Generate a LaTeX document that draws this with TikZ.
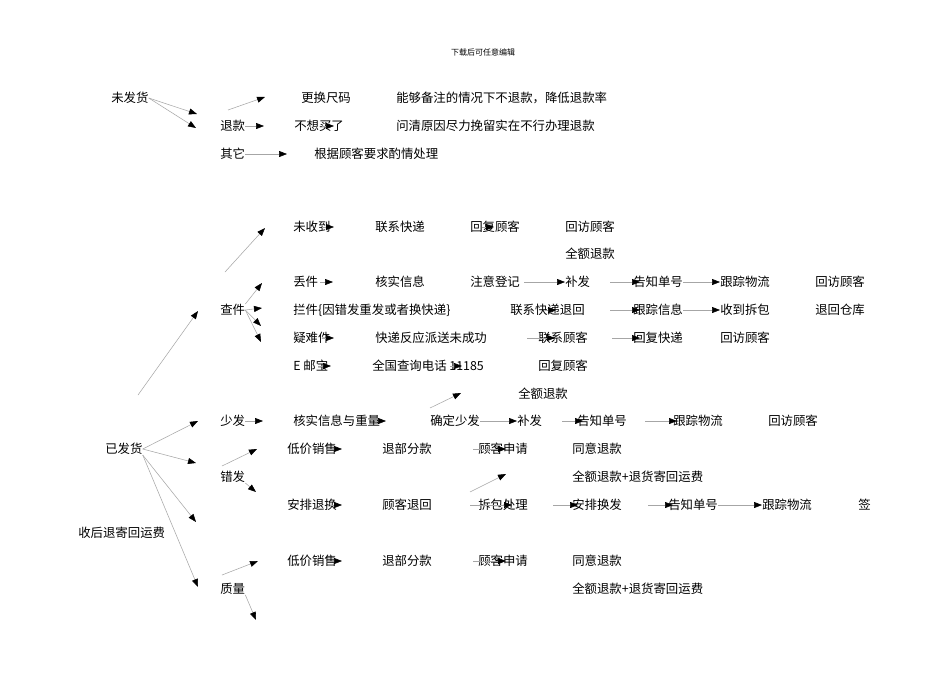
\documentclass[tikz,border=0pt]{standalone}
\usepackage{fontspec}
\setmainfont{Noto Sans CJK SC}
\usetikzlibrary{arrows.meta}
\begin{document}
\begin{tikzpicture}[x=0.75pt,y=-0.75pt,
  t/.style={anchor=west,inner sep=0pt,font=\fontsize{9.3pt}{11pt}\selectfont},
  arr/.style={draw=gray!70,line width=0.4pt,-{Triangle[black,length=6pt,width=4.5pt]}}]
\useasboundingbox[fill=white] (0,0) rectangle (950,672);
\node[inner sep=0pt,font=\fontsize{6pt}{7pt}\selectfont] (hdr) at (483,52) {下载后可任意编辑};
% section 1
\node[t] (wfh) at (111,98) {未发货};
\node[t] (tk) at (220,126) {退款};
\node[t] (qt) at (220,154) {其它};
\node[t] (ghcm) at (301,98) {更换尺码};
\node[t] (ngbz) at (396,98) {能够备注的情况下不退款，降低退款率};
\node[t] (bxml) at (294,126) {不想买了};
\node[t] (wqyy) at (396,126) {问清原因尽力挽留实在不行办理退款};
\node[t] (gjgk) at (314,154) {根据顾客要求酌情处理};
\coordinate (a1) at (197,114); \coordinate (a2) at (196,128);
\draw[arr] (wfh.east) -- (a1);
\draw[arr] (wfh.east) -- (a2);
\coordinate (a3s) at (228,110); \coordinate (a3) at (265,97);
\draw[arr] (a3s) -- (a3);
\coordinate (a4) at (264,126); \draw[arr] (tk.east) -- (a4);
\coordinate (a5) at (287,154); \draw[arr] (qt.east) -- (a5);
\coordinate (a6s) at (322,126); \coordinate (a6) at (334,126); \draw[arr] (a6s) -- (a6);
% section 2
\node[t] (wsd) at (293,227) {未收到};
\node[t] (lxkd) at (375,227) {联系快递};
\node[t] (hfgk) at (470,227) {回复顾客};
\node[t] (hfgk2) at (565,227) {回访顾客};
\node[t] (qetk) at (565,254) {全额退款};
\node[t] (dj) at (293,282) {丢件};
\node[t] (hsxx) at (375,282) {核实信息};
\node[t] (zydj) at (470,282) {注意登记};
\node[t] (bf) at (565,282) {补发};
\node[t] (gzdh) at (633,282) {告知单号};
\node[t] (gzwl) at (720,282) {跟踪物流};
\node[t] (hfgk3) at (815,282) {回访顾客};
\node[t] (cj) at (220,310) {查件};
\node[t] (lj) at (293,310) {拦件\{因错发重发或者换快递\}};
\node[t] (lxth) at (510,310) {联系快递退回};
\node[t] (gzxx) at (633,310) {跟踪信息};
\node[t] (sdcb) at (720,310) {收到拆包};
\node[t] (thck) at (815,310) {退回仓库};
\node[t] (nnj) at (293,338) {疑难件};
\node[t] (kdfy) at (375,338) {快递反应派送未成功};
\node[t] (lxgk) at (538,338) {联系顾客};
\node[t] (hfkd) at (633,338) {回复快递};
\node[t] (hfgk4) at (720,338) {回访顾客};
\node[t] (eyb) at (293,366) {E 邮宝};
\node[t] (qgcx) at (372,366) {全国查询电话 11185};
\node[t] (hfgk5) at (538,366) {回复顾客};
\coordinate (b1s) at (225,272); \coordinate (b1) at (265,228); \draw[arr] (b1s) -- (b1);
\coordinate (b2) at (262,283); \draw[arr] (cj.north east) -- (b2);
\coordinate (b3) at (262,308); \draw[arr] (cj.east) -- (b3);
\coordinate (b4) at (261,326); \draw[arr] (cj.east) -- (b4);
\coordinate (b5) at (261,342); \draw[arr] (cj.east) -- (b5);
\foreach \y/\xa/\xb in {227/322/334, 227/482/494, 282/320/333, 338/322/334, 366/318/331, 366/450/462, 310/545/556}
  {\coordinate (s) at (\xa,\y); \coordinate (e) at (\xb,\y); \draw[arr] (s) -- (e);}
\draw[arr] (zydj.east) ++(4,0) coordinate (c1) -- (bf.west) coordinate (c1e);
\coordinate (c2s) at (610,282); \coordinate (c2e) at (640,282); \draw[arr] (c2s) -- (c2e);
\draw[arr] (gzdh.east) -- (gzwl.west);
\coordinate (c3s) at (610,310); \coordinate (c3e) at (640,310); \draw[arr] (c3s) -- (c3e);
\draw[arr] (gzxx.east) -- (sdcb.west);
\coordinate (c4s) at (527,338); \coordinate (c4e) at (555,338); \draw[arr] (c4s) -- (c4e);
\coordinate (c5s) at (612,338); \coordinate (c5e) at (640,338); \draw[arr] (c5s) -- (c5e);
% section 3
\node[t] (qetk2) at (518,394) {全额退款};
\node[t] (yfh) at (105,449) {已发货};
\node[t] (sf) at (220,421) {少发};
\node[t] (hsxz) at (293,421) {核实信息与重量};
\node[t] (qdsf) at (430,421) {确定少发};
\node[t] (bf2) at (517,421) {补发};
\node[t] (gzdh2) at (577,421) {告知单号};
\node[t] (gzwl2) at (673,421) {跟踪物流};
\node[t] (hfgk6) at (768,421) {回访顾客};
\node[t] (djxs) at (287,449) {低价销售};
\node[t] (tbfk) at (382,449) {退部分款};
\node[t] (gksq) at (478,449) {顾客申请};
\node[t] (tytk) at (572,449) {同意退款};
\node[t] (cf) at (220,477) {错发};
\node[t] (qeyf) at (572,477) {全额退款+退货寄回运费};
\node[t] (shty) at (78,533) {收后退寄回运费};
\node[t] (apth) at (287,505) {安排退换};
\node[t] (gkth) at (382,505) {顾客退回};
\node[t] (cbcl) at (478,505) {拆包处理};
\node[t] (aphf) at (572,505) {安排换发};
\node[t] (gzdh3) at (668,505) {告知单号};
\node[t] (gzwl3) at (762,505) {跟踪物流};
\node[t] (qian) at (858,505) {签};
\node[t] (djxs2) at (287,561) {低价销售};
\node[t] (tbfk2) at (382,561) {退部分款};
\node[t] (gksq2) at (478,561) {顾客申请};
\node[t] (tytk2) at (572,561) {同意退款};
\node[t] (zl) at (220,589) {质量};
\node[t] (qeyf2) at (572,589) {全额退款+退货寄回运费};
\coordinate (d0s) at (138,395); \coordinate (d0) at (198,311); \draw[arr] (d0s) -- (d0);
\coordinate (d1) at (198,421); \draw[arr] (yfh.east) -- (d1);
\coordinate (d2) at (196,463); \draw[arr] (yfh.east) -- (d2);
\coordinate (d3) at (196,522); \draw[arr] (yfh.south east) -- (d3);
\coordinate (d4) at (198,587); \draw[arr] (yfh.south east) -- (d4);
\coordinate (d5) at (263,421); \draw[arr] (sf.east) -- (d5);
\coordinate (d6s) at (430,408); \coordinate (d6) at (461,393); \draw[arr] (d6s) -- (d6);
\draw[arr] (qdsf.east) -- (bf2.west);
\coordinate (d7s) at (562,421); \coordinate (d7e) at (583,421); \draw[arr] (d7s) -- (d7e);
\coordinate (d8s) at (645,421); \coordinate (d8e) at (677,421); \draw[arr] (d8s) -- (d8e);
\coordinate (d9s) at (375,421); \coordinate (d9e) at (386,421); \draw[arr] (d9s) -- (d9e);
\coordinate (e1s) at (222,466); \coordinate (e1) at (257,449); \draw[arr] (e1s) -- (e1);
\coordinate (e2) at (256,492); \draw[arr] (cf.south east) -- (e2);
\coordinate (e3s) at (470,492); \coordinate (e3) at (506,474); \draw[arr] (e3s) -- (e3);
\coordinate (e4s) at (222,575); \coordinate (e4) at (258,561); \draw[arr] (e4s) -- (e4);
\coordinate (e5) at (256,620); \draw[arr] (zl.south east) -- (e5);
\foreach \y in {449,505,561}{
  \coordinate (s) at (330,\y); \coordinate (e) at (342,\y); \draw[arr] (s) -- (e);}
\foreach \y in {449,561}{
  \coordinate (s) at (473,\y); \coordinate (e) at (506,\y); \draw[arr] (s) -- (e);}
\coordinate (f1s) at (470,505); \coordinate (f1) at (512,505); \draw[arr] (f1s) -- (f1);
\coordinate (f2s) at (553,505); \coordinate (f2) at (578,505); \draw[arr] (f2s) -- (f2);
\coordinate (f3s) at (648,505); \coordinate (f3) at (673,505); \draw[arr] (f3s) -- (f3);
\draw[arr] (gzdh3.east) -- (gzwl3.west);
\end{tikzpicture}
\end{document}
